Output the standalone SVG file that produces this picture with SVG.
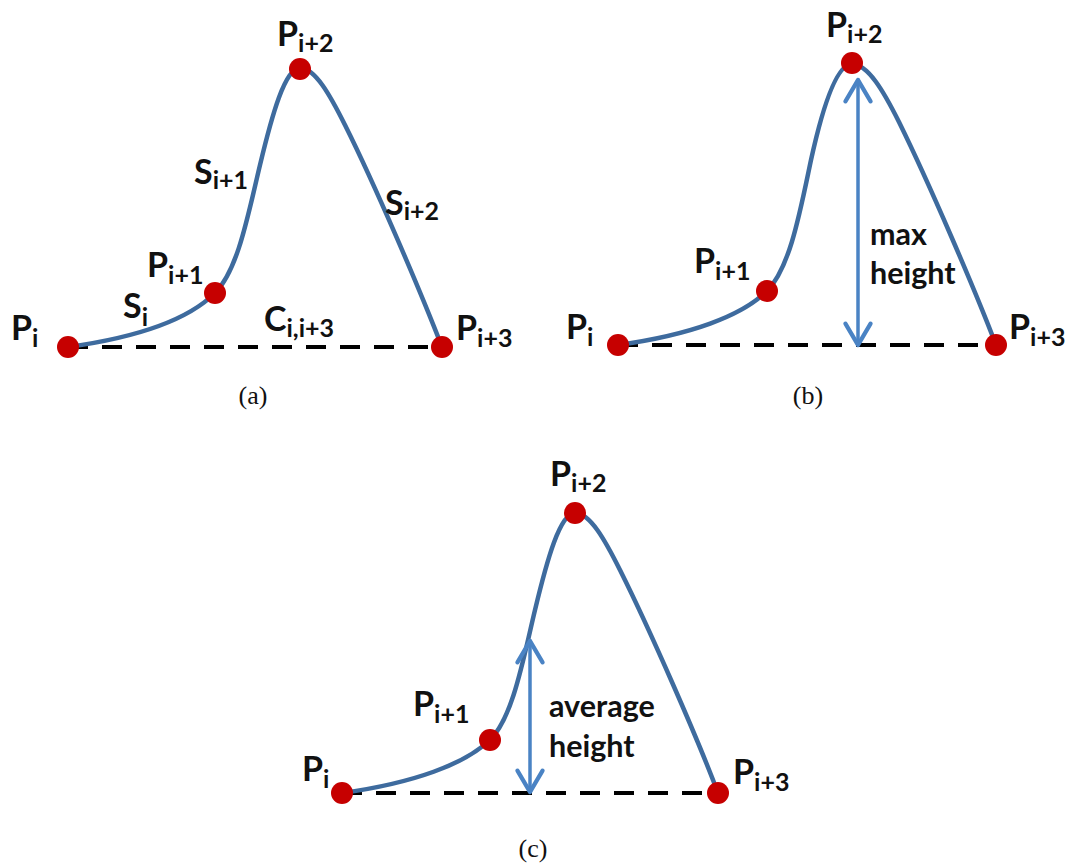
<svg xmlns="http://www.w3.org/2000/svg" width="1073" height="865" viewBox="0 0 1073 865">
<style>
.lbl{font-family:Lato,"Open Sans","Liberation Sans",sans-serif;font-weight:bold;fill:#111;font-size:34px}
.sub{font-size:25px}
.txt{font-family:Lato,"Open Sans","Liberation Sans",sans-serif;font-weight:bold;fill:#111;font-size:30.5px}
.cap{font-family:"Liberation Serif","DejaVu Serif",serif;font-size:26px;fill:#111;text-anchor:middle}
.curve{fill:none;stroke:#3E6B9E;stroke-width:4.5;stroke-linecap:round}
.chord{fill:none;stroke:#000;stroke-width:4;stroke-dasharray:20 14}
.arrow{fill:none;stroke:#4A83C4;stroke-width:3.5;marker-start:url(#ah);marker-end:url(#ah)}
.dot{fill:#C60000}
</style>
<defs>
<marker id="ah" markerUnits="userSpaceOnUse" markerWidth="30" markerHeight="30" viewBox="-20 -12 24 24" refX="0" refY="0" orient="auto-start-reverse" overflow="visible">
<path d="M-17,-10 L0,0 L-17,10" fill="none" stroke="#4A83C4" stroke-width="3.5" stroke-linecap="round" stroke-linejoin="round"/>
</marker>
</defs>
<rect width="1073" height="865" fill="#fff"/>
<g id="connectors">
<line class="chord" x1="68" y1="347" x2="442" y2="347"/>
<path class="curve" d="M68 347 C140 337,190 318,215 293 C238 270,248 215,260 165 C272 115,285 68,300 68 C315 68,330 95,345 125 C375 185,420 290,442 347"/>
<line class="chord" x1="618" y1="345" x2="996" y2="345"/>
<path class="curve" d="M618 345 C690 335,742 316,767 291 C790 268,800 212,811 160 C822 110,836 64,852 64 C868 64,884 92,899 122 C930 185,975 290,996 345"/>
<line class="arrow" x1="858" y1="80" x2="858" y2="345"/>
<line class="chord" x1="342" y1="793" x2="718" y2="793"/>
<path class="curve" d="M342 793 C414 783,465 764,490 740 C513 717,523 660,535 610 C547 560,560 513,575 513 C590 513,605 540,620 570 C650 630,697 737,718 793"/>
<line class="arrow" x1="530" y1="641" x2="530" y2="792"/>
</g>
<g id="a-Pi"><circle class="dot" cx="68" cy="347" r="11"/><text class="lbl" x="11" y="340">P<tspan class="sub" dy="7">i</tspan></text></g>
<g id="a-Pi1"><circle class="dot" cx="215" cy="293" r="11"/><text class="lbl" x="147" y="277">P<tspan class="sub" dy="7">i+1</tspan></text></g>
<g id="a-Pi2"><circle class="dot" cx="300" cy="69" r="11"/><text class="lbl" x="277" y="46">P<tspan class="sub" dy="6">i+2</tspan></text></g>
<g id="a-Pi3"><circle class="dot" cx="442" cy="347" r="11"/><text class="lbl" x="456" y="340">P<tspan class="sub" dy="7">i+3</tspan></text></g>
<g id="a-S"><text class="lbl" x="194" y="184">S<tspan class="sub" dy="5">i+1</tspan></text>
<text class="lbl" x="385" y="215">S<tspan class="sub" dy="5">i+2</tspan></text>
<text class="lbl" x="123" y="318">S<tspan class="sub" dy="8">i</tspan></text>
<text class="lbl" x="264" y="331">C<tspan class="sub" dy="6">i,i+3</tspan></text></g>
<text class="cap" x="253" y="404">(a)</text>
<g id="b-Pi"><circle class="dot" cx="618" cy="345" r="11"/><text class="lbl" x="566" y="339">P<tspan class="sub" dy="7">i</tspan></text></g>
<g id="b-Pi1"><circle class="dot" cx="767" cy="291" r="11"/><text class="lbl" x="694" y="273">P<tspan class="sub" dy="7">i+1</tspan></text></g>
<g id="b-Pi2"><circle class="dot" cx="852" cy="63" r="11"/><text class="lbl" x="826" y="37">P<tspan class="sub" dy="6">i+2</tspan></text></g>
<g id="b-Pi3"><circle class="dot" cx="996" cy="345" r="11"/><text class="lbl" x="1009" y="339">P<tspan class="sub" dy="7">i+3</tspan></text></g>
<g id="b-h"><text class="txt" x="870" y="245">max</text><text class="txt" x="870" y="284">height</text></g>
<text class="cap" x="808" y="404">(b)</text>
<g id="c-Pi"><circle class="dot" cx="342" cy="793" r="11"/><text class="lbl" x="302" y="781">P<tspan class="sub" dy="7">i</tspan></text></g>
<g id="c-Pi1"><circle class="dot" cx="490" cy="740" r="11"/><text class="lbl" x="413" y="716">P<tspan class="sub" dy="7">i+1</tspan></text></g>
<g id="c-Pi2"><circle class="dot" cx="575" cy="513" r="11"/><text class="lbl" x="550" y="486">P<tspan class="sub" dy="6">i+2</tspan></text></g>
<g id="c-Pi3"><circle class="dot" cx="718" cy="793" r="11"/><text class="lbl" x="733" y="784">P<tspan class="sub" dy="7">i+3</tspan></text></g>
<g id="c-h"><text class="txt" x="549" y="717">average</text><text class="txt" x="549" y="757">height</text></g>
<text class="cap" x="533" y="857">(c)</text>
</svg>
